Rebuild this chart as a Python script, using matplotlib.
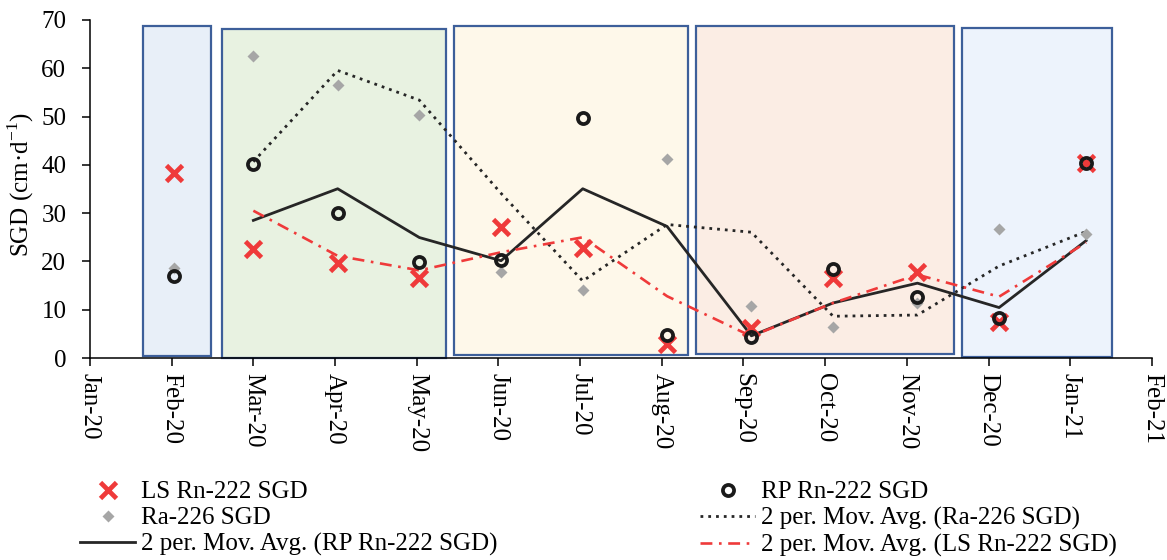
import datetime as dt
import matplotlib
matplotlib.use("Agg")
import matplotlib.pyplot as plt
import matplotlib.dates as mdates
from matplotlib.patches import Rectangle
import pandas as pd

plt.rcParams['font.family'] = ['Liberation Serif', 'DejaVu Serif']
plt.rcParams['mathtext.fontset'] = 'custom'
plt.rcParams['mathtext.rm'] = 'Liberation Serif'
plt.rcParams['font.size'] = 18

# sampling dates and SGD estimates (cm/d)
sample_dates = ['2020-02-02', '2020-03-03', '2020-04-04', '2020-05-05', '2020-06-05',
                '2020-07-06', '2020-08-07', '2020-09-08', '2020-10-09', '2020-11-10',
                '2020-12-11', '2021-01-13']
ls_rn222 = [38.4, 22.6, 19.7, 16.6, 27.2, 22.8, 2.8, 6.2, 16.6, 17.9, 7.5, 40.3]
rp_rn222 = [16.9, 40.1, 30.0, 19.9, 20.4, 49.7, 4.8, 4.4, 18.4, 12.6, 8.3, 40.3]
ra226 = [18.7, 62.6, 56.5, 50.3, 17.9, 14.0, 41.3, 10.8, 6.5, 11.3, 26.8, 25.6]

# seasonal panels: start, end, top
season_start = ['2020-01-21', '2020-02-20', '2020-05-18', '2020-08-18', '2020-11-27']
season_end = ['2020-02-16', '2020-05-15', '2020-08-15', '2020-11-24', '2021-01-23']
season_top = [68.7, 68.2, 68.7, 68.7, 68.3]
season_bottom = [0.4, 0.05, 0.6, 0.8, 0.25]
season_fill = ['#e8eff8', '#e8f2e1', '#fef8ea', '#fbede4', '#edf3fc']

df = pd.DataFrame({'ls': ls_rn222, 'rp': rp_rn222, 'ra': ra226},
                  index=pd.to_datetime(sample_dates))
ma = df.rolling(2).mean()

red = '#ef3a3a'

fig = plt.figure(figsize=(11.67, 5.6), dpi=100)
ax = fig.add_axes([0.0771, 0.3607, 0.9100, 0.6036])

for s, e, top, bot, c in zip(season_start, season_end, season_top, season_bottom, season_fill):
    x0 = mdates.date2num(pd.Timestamp(s))
    x1 = mdates.date2num(pd.Timestamp(e))
    ax.add_patch(Rectangle((x0, bot), x1 - x0, top - bot, facecolor=c,
                           edgecolor='#3d5f9a', lw=1.6, zorder=1, clip_on=False))

ax.plot(ma.index, ma['rp'], color='#262626', lw=2.0, zorder=3,
        label='2 per. Mov. Avg. (RP Rn-222 SGD)')
ax.plot(ma.index, ma['ra'], color='#262626', lw=2.0, ls=(0, (1, 1.8)), zorder=3,
        label='2 per. Mov. Avg. (Ra-226 SGD)')
ax.plot(ma.index, ma['ls'], color=red, lw=1.9, ls=(0, (4.5, 2.5, 1, 2.5)), zorder=3,
        label='2 per. Mov. Avg. (LS Rn-222 SGD)')
ax.plot(df.index, df['ra'], ls='none', marker='D', ms=6.5, color='#a6a6a6',
        mec='none', zorder=4, label='Ra-226 SGD')
ax.plot(df.index, df['ls'], ls='none', marker='x', ms=11, mew=3.4, color=red,
        zorder=5, label='LS Rn-222 SGD')
ax.plot(df.index, df['rp'], ls='none', marker='o', ms=8, mew=2.7, mfc='none',
        mec='#1a1a1a', zorder=6, label='RP Rn-222 SGD')

start = pd.Timestamp('2020-01-01')
ticks = [mdates.date2num(start + pd.Timedelta(days=31 * k)) for k in range(14)]
ax.set_xlim(ticks[0], ticks[-1])
ax.set_xticks(ticks)
ax.xaxis.set_major_formatter(mdates.DateFormatter('%b-%y'))
for lab in ax.get_xticklabels():
    lab.set_rotation(-90)
    lab.set_va('top')
    lab.set_ha('center')

ax.set_ylim(0, 70)
ax.set_yticks(range(0, 71, 10))
ax.set_ylabel('SGD (cm·d$^{-1}$)')
ax.yaxis.set_label_coords(-0.051, 0.512)

for side in ['top', 'right']:
    ax.spines[side].set_visible(False)
for side in ['left', 'bottom']:
    ax.spines[side].set_linewidth(1.1)
ax.tick_params(axis='both', direction='out', length=6, width=1.1)
ax.tick_params(axis='y', pad=11)
ax.tick_params(axis='x', pad=5)
ax.set_facecolor('none')

handles, labels = ax.get_legend_handles_labels()
h = dict(zip(labels, handles))
left = ['LS Rn-222 SGD', 'Ra-226 SGD', '2 per. Mov. Avg. (RP Rn-222 SGD)']
right = ['RP Rn-222 SGD', '2 per. Mov. Avg. (Ra-226 SGD)', '2 per. Mov. Avg. (LS Rn-222 SGD)']
common = dict(loc='upper left', frameon=False, borderpad=0, borderaxespad=0,
              handlelength=2.2, handletextpad=0.25, labelspacing=0.14)
leg1 = fig.legend([h[k] for k in left], left, bbox_to_anchor=(80 / 1167, 1 - 481 / 560), **common)
leg2 = fig.legend([h[k] for k in right], right, bbox_to_anchor=(700 / 1167, 1 - 481 / 560), **common)

fig.savefig('out.png', dpi=100)
